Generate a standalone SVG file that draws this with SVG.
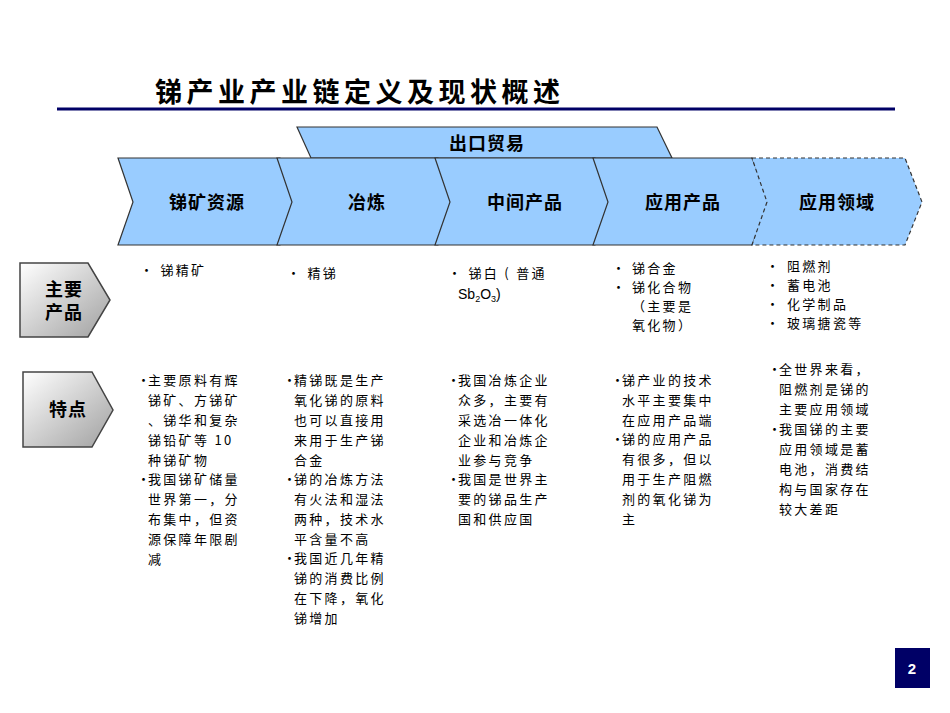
<svg xmlns="http://www.w3.org/2000/svg" width="950" height="713" viewBox="0 0 950 713">
<defs>
<linearGradient id="g" x1="0" y1="0" x2="1" y2="1"><stop offset="0" stop-color="#ffffff"/><stop offset="1" stop-color="#a0a0a0"/></linearGradient>
<style>
.t{font-family:"Noto Sans CJK SC","Liberation Sans",sans-serif;font-size:13px;fill:#000;letter-spacing:2.3px}
.h{font-family:"Noto Sans CJK SC",sans-serif;font-size:18px;font-weight:bold;fill:#000;text-anchor:middle;letter-spacing:1px}
.c{fill:#99CCFF;stroke:#333;stroke-width:1.2}
.p{fill:url(#g);stroke:#444;stroke-width:1.5}
</style>
</defs>
<rect width="950" height="713" fill="#fff"/>
<g id="title">
<text x="155" y="102" style="font-family:'Noto Sans CJK SC',sans-serif;font-size:27px;font-weight:bold;letter-spacing:4.5px">锑产业产业链定义及现状概述</text>
<line x1="57" y1="109" x2="895" y2="109" stroke="#000066" stroke-width="3"/>
</g>
<g id="export"><polygon class="c" points="297,127 657,127 672,158 311,158"/><text class="h" x="487" y="150">出口贸易</text></g>
<g id="n1"><polygon class="c" points="118,158 280,158 297,202 280,245 118,245 133,202"/><text class="h" x="207" y="209">锑矿资源</text></g>
<g id="n2"><polygon class="c" points="277,158 438,158 455,202 438,245 277,245 292,202"/><text class="h" x="367" y="209">冶炼</text></g>
<g id="n3"><polygon class="c" points="435,158 595,158 612,202 595,245 435,245 450,202"/><text class="h" x="525" y="209">中间产品</text></g>
<g id="n4"><polygon class="c" points="593,158 752,158 770,202 752,245 593,245 608,202"/><text class="h" x="683" y="209">应用产品</text></g>
<g id="n5"><polygon class="c" points="752,158 905,158 922,202 905,245 752,245 767,202" stroke-dasharray="4,3"/><text class="h" x="837" y="209">应用领域</text></g>
<g id="l1"><polygon class="p" points="20,263 88,263 110,300 88,337 20,337"/><text class="h" x="64" y="296">主要</text><text class="h" x="64" y="319">产品</text></g>
<g id="l2"><polygon class="p" points="23,372 92,372 113,410 92,447 23,447"/><text class="h" x="68" y="416">特点</text></g>
<g id="products" class="t">
<text x="140" y="275">• 锑精矿</text>
<text x="287" y="278">• 精锑</text>
<text x="448" y="278">• 锑白 ( 普通</text>
<text x="458" y="299" style="font-family:'Liberation Sans',sans-serif;letter-spacing:0;font-size:14px">Sb<tspan font-size="9" dy="3">2</tspan><tspan dy="-3">O</tspan><tspan font-size="9" dy="3">3</tspan><tspan dy="-3">)</tspan></text>
<text y="273"><tspan x="612">•</tspan><tspan x="632">锑合金</tspan></text>
<text y="292"><tspan x="612">•</tspan><tspan x="632">锑化合物</tspan></text>
<text x="632" y="311">（主要是</text>
<text x="632" y="330">氧化物）</text>
<text y="271"><tspan x="766">•</tspan><tspan x="787">阻燃剂</tspan></text>
<text y="290"><tspan x="766">•</tspan><tspan x="787">蓄电池</tspan></text>
<text y="309"><tspan x="766">•</tspan><tspan x="787">化学制品</tspan></text>
<text y="328"><tspan x="766">•</tspan><tspan x="787">玻璃搪瓷等</tspan></text>
</g>
<g id="features" class="t">
<text y="385"><tspan x="137">•</tspan><tspan x="148">主要原料有辉</tspan></text><text x="148" y="405">锑矿、方锑矿</text><text x="148" y="425">、锑华和复杂</text><text x="148" y="445">锑铅矿等 10</text><text x="148" y="465">种锑矿物</text>
<text y="484"><tspan x="137">•</tspan><tspan x="148">我国锑矿储量</tspan></text><text x="148" y="504">世界第一，分</text><text x="148" y="524">布集中，但资</text><text x="148" y="544">源保障年限剧</text><text x="148" y="564">减</text>
<text y="385"><tspan x="283">•</tspan><tspan x="294">精锑既是生产</tspan></text><text x="294" y="405">氧化锑的原料</text><text x="294" y="425">也可以直接用</text><text x="294" y="445">来用于生产锑</text><text x="294" y="465">合金</text>
<text y="484"><tspan x="283">•</tspan><tspan x="294">锑的冶炼方法</tspan></text><text x="294" y="504">有火法和湿法</text><text x="294" y="524">两种，技术水</text><text x="294" y="544">平含量不高</text>
<text y="563"><tspan x="283">•</tspan><tspan x="294">我国近几年精</tspan></text><text x="294" y="583">锑的消费比例</text><text x="294" y="603">在下降，氧化</text><text x="294" y="623">锑增加</text>
<text y="385"><tspan x="447">•</tspan><tspan x="458">我国冶炼企业</tspan></text><text x="458" y="405">众多，主要有</text><text x="458" y="425">采选冶一体化</text><text x="458" y="445">企业和冶炼企</text><text x="458" y="465">业参与竞争</text>
<text y="484"><tspan x="447">•</tspan><tspan x="458">我国是世界主</tspan></text><text x="458" y="504">要的锑品生产</text><text x="458" y="524">国和供应国</text>
<text y="385"><tspan x="611">•</tspan><tspan x="622">锑产业的技术</tspan></text><text x="622" y="405">水平主要集中</text><text x="622" y="425">在应用产品端</text>
<text y="444"><tspan x="611">•</tspan><tspan x="622">锑的应用产品</tspan></text><text x="622" y="464">有很多，但以</text><text x="622" y="484">用于生产阻燃</text><text x="622" y="504">剂的氧化锑为</text><text x="622" y="524">主</text>
<text y="374"><tspan x="768">•</tspan><tspan x="779">全世界来看，</tspan></text><text x="779" y="394">阻燃剂是锑的</text><text x="779" y="414">主要应用领域</text>
<text y="434"><tspan x="768">•</tspan><tspan x="779">我国锑的主要</tspan></text><text x="779" y="454">应用领域是蓄</text><text x="779" y="474">电池，消费结</text><text x="779" y="494">构与国家存在</text><text x="779" y="514">较大差距</text>
</g>
<g id="page"><rect x="895" y="648" width="35" height="40" fill="#000066"/><text x="912" y="674" text-anchor="middle" style="font-family:'Liberation Sans',sans-serif;font-size:15px;font-weight:bold;fill:#fff">2</text></g>
</svg>
